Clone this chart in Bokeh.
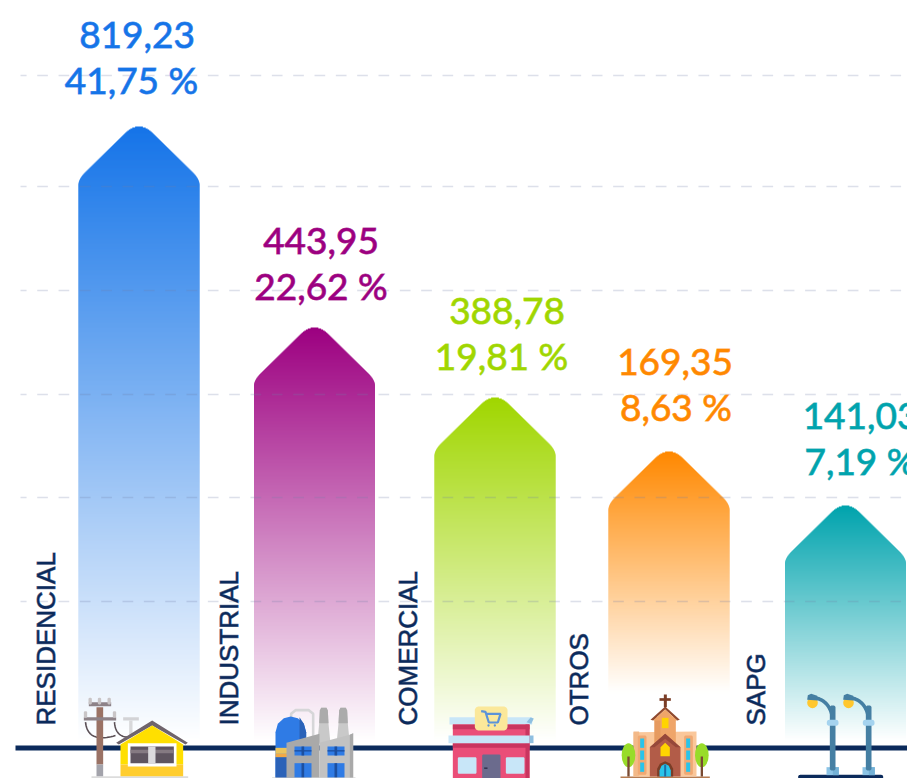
import numpy as np
from bokeh.plotting import figure
from bokeh.models import Range1d, ColumnDataSource
from bokeh.core.properties import value
from bokeh.embed import file_html
from bokeh.resources import INLINE

# ---------- data ----------
categories = ["RESIDENCIAL", "INDUSTRIAL", "COMERCIAL", "OTROS", "SAPG"]
gwh_labels = ["819,23", "443,95", "388,78", "169,35", "141,03"]
pct_labels = ["41,75 %", "22,62 %", "19,81 %", "8,63 %", "7,19 %"]
bar_heights = [621, 420, 350, 296, 242]          # drawn height over the base line (infographic scale)
fade_ends = [7, 7, 7, 55, 7]                     # height where the fade reaches white
bar_centers = [138.5, 314, 494.5, 668.5, 845]
bar_half_width = 60.5
colors = ["#1574e8", "#9c0080", "#a0d600", "#ff8800", "#00a3ad"]
grid_levels = [672, 561, 457, 353, 250, 146]
NAVY = "#0b2a5b"

# layout of labels
gwh_x = [136.5, 320.5, 506.5, 674.5, 860]
gwh_base = [34, 240, 310, 361, 415]
pct_x = [131, 320.5, 501, 675.5, 860]
pct_base = [79, 285, 355, 406, 460]
cat_x = [45, 228, 407, 578, 755]

W, H = 907, 778
p = figure(width=W, height=H, output_backend="svg", toolbar_location=None,
           x_range=Range1d(0, 907), y_range=Range1d(747 - 778, 747),
           min_border=0, outline_line_color=None)
p.axis.visible = False
p.grid.visible = False
p.background_fill_color = "#ffffff"
p.border_fill_color = "#ffffff"

# ---------- bars: arrow shape, vertical fade (opaque tints, overlapping rows) ----------
def half_width_profile(hw, shoulder=58.0):
    s = 0.98
    lift = 7.0
    corner = s * hw - lift
    t = np.linspace(0, 1, 60)
    def bez(a, b, c):
        return ((1 - t) ** 2)[:, None] * a + (2 * t * (1 - t))[:, None] * b + (t ** 2)[:, None] * c
    a0 = np.array([0.0, 0.0]); c0 = np.array([lift / s, 0.0]); e0 = np.array([14.0, 14.0 * s - lift])
    x1 = hw - 7.0
    a1 = np.array([x1, x1 * s - lift]); c1 = np.array([hw, corner]); e1 = np.array([hw, shoulder])
    pts = np.vstack([bez(a0, c0, e0), bez(a1, c1, e1)])
    return pts[:, 1], pts[:, 0]

def tint(col, a):
    rgb = [int(col[i:i + 2], 16) for i in (1, 3, 5)]
    return "#%02x%02x%02x" % tuple(int(round(255 - a * (255 - c))) for c in rgb)

left, right, top, bottom, fc = [], [], [], [], []
for h, end, cx, col in zip(bar_heights, fade_ends, bar_centers, colors):
    dd, xx = half_width_profile(bar_half_width)
    for row in range(h, end, -1):
        depth = h - row + 0.5
        hwid = float(np.interp(depth, dd, xx))
        left.append(cx - hwid); right.append(cx + hwid)
        top.append(row); bottom.append(row - 2)
        fc.append(tint(col, (row - end) / (h - end)))
p.quad(left=left, right=right, top=top, bottom=bottom, fill_color=fc, line_color=None)

# ---------- dashed grid (over the bars, translucent) ----------
dash_starts = np.arange(15.4, 907, 21.33)
gx0, gx1, gy = [], [], []
for lev in grid_levels:
    for s in dash_starts:
        gx0.append(max(s, 20)); gx1.append(s + 10.67); gy.append(lev)
p.segment(gx0, gy, gx1, gy, line_color="#6f7fa8", line_alpha=0.24, line_width=1.6)

# base line
p.quad(left=[15], right=[907], top=[2], bottom=[-3], fill_color=NAVY, line_color=None)

class Z:
    def __init__(self, ox):
        self.ox = ox
    def X(self, z):
        return self.ox + z / 3
    def Y(self, z):
        return 747 - (540 + z / 3)
    def r(self, x0, y0, x1, y1, c):
        p.quad(left=[self.X(x0)], right=[self.X(x1)], top=[self.Y(y0)], bottom=[self.Y(y1)],
               fill_color=c, line_color=None)
    def poly(self, pts, c):
        p.patch([self.X(a) for a, b in pts], [self.Y(b) for a, b in pts], fill_color=c, line_color=None)
    def line(self, pts, c, w):
        p.line([self.X(a) for a, b in pts], [self.Y(b) for a, b in pts], line_color=c, line_width=w)
    def circ(self, x, y, rad, c):
        p.circle([self.X(x)], [self.Y(y)], radius=rad / 3, fill_color=c, line_color=None)
    def curve(self, a, b, c, col, w):
        t = np.linspace(0, 1, 24)
        xs = (1 - t) ** 2 * a[0] + 2 * t * (1 - t) * b[0] + t ** 2 * c[0]
        ys = (1 - t) ** 2 * a[1] + 2 * t * (1 - t) * b[1] + t ** 2 * c[1]
        self.line(list(zip(xs, ys)), col, w)
    def rrect(self, x0, y0, x1, y1, rad, c):
        a = np.linspace(0, np.pi / 2, 8)
        pts = []
        for cx, cy, st in [(x1 - rad, y0 + rad, -np.pi / 2), (x1 - rad, y1 - rad, 0),
                           (x0 + rad, y1 - rad, np.pi / 2), (x0 + rad, y0 + rad, np.pi)]:
            pts += [(cx + rad * np.cos(st + q), cy + rad * np.sin(st + q)) for q in a]
        self.poly(pts, c)

# --- house and pole
z = Z(0)
z.r(273, 707, 563, 714, "#dcdcdc")
z.r(368, 530, 415, 540, "#d3d3d6")
z.r(386, 540, 396, 590, "#d8d8da")
z.curve((255, 545), (262, 610), (345, 585), "#5a4f55", 1.6)
z.curve((342, 545), (345, 590), (385, 590), "#5a4f55", 1.6)
z.r(288, 500, 308, 672, "#9a7265")
z.r(288, 672, 308, 707, "#a3a3ab")
z.r(265, 485, 332, 497, "#8d8288")
z.r(250, 530, 347, 540, "#8d8288")
for zx, zy in [(269, 478), (297, 478), (326, 478), (255, 518), (342, 518)]:
    z.rrect(zx - 5, zy - 6, zx + 5, zy + 14, 4, "#c9c5c7")
z.poly([(455, 540), (562, 607), (555, 612), (455, 555), (355, 612), (347, 607)], "#6f646c")
z.poly([(455, 555), (548, 612), (548, 672), (360, 672), (360, 612)], "#ffdf00")
z.r(360, 672, 548, 707, "#ffcd2e")
z.r(382, 608, 528, 678, "#ffffff")
z.r(390, 618, 520, 668, "#5f5560")
z.r(390, 628, 520, 638, "#857a82")
z.r(443, 618, 465, 668, "#dcdadd")

# --- factory
z.line([(872, 560), (872, 520), (885, 509), (925, 509), (938, 520), (938, 600)], "#d6d6d8", 2.6)
for a, b in [(950, 990), (1008, 1048)]:
    m = (a + b) / 2
    z.poly([(m - 12, 510), (m - 8, 502), (m + 8, 502), (m + 12, 510), (m + 14, 550), (b, 610), (a, 610), (m - 14, 550)], "#c9c9c9")
    z.poly([(m - 12, 510), (m - 8, 502), (m + 8, 502), (m + 12, 510), (m + 14, 548), (m - 14, 548)], "#ababab")
z.poly([(825, 575), (832, 550), (850, 533), (871, 528), (892, 533), (910, 550), (917, 575), (917, 712), (825, 712)], "#2f7be5")
z.poly([(897, 530), (910, 550), (917, 575), (917, 712), (897, 712)], "#2b62b8")
z.r(825, 650, 897, 712, "#2b62b8")
z.r(825, 622, 917, 640, "#ecc55c")
z.r(825, 640, 917, 650, "#f2a945")
z.poly([(858, 607), (957, 580), (957, 712), (858, 712)], "#a9a9a9")
z.poly([(957, 607), (1048, 583), (1058, 578), (1058, 712), (957, 712)], "#c2c2c2")
z.poly([(1048, 583), (1058, 578), (1058, 712), (1048, 712)], "#a9a9a9")
for a in (882, 981):
    z.r(a, 618, a + 51, 645, "#2f7be5")
    z.r(a + 21, 618, a + 29, 645, "#1d4f9e")
    z.r(a, 629, a + 51, 633, "#1d4f9e")
    z.r(a, 668, a + 51, 712, "#2f7be5")
    z.r(a + 21, 668, a + 29, 712, "#1d4f9e")
z.r(815, 711, 1065, 714, "#c9c9c9")

# --- shop
z = Z(450)
z.r(-3, 530, 245, 552, "#c8e6f8")
z.poly([(228, 545), (240, 531), (250, 534), (242, 550)], "#8ebfe0")
z.r(7, 552, 237, 714, "#ea4e78")
z.r(7, 552, 237, 566, "#c9355f")
z.r(7, 608, 237, 622, "#c9355f")
z.r(225, 552, 237, 714, "#c9355f")
z.r(-6, 585, 237, 608, "#c8e6f8")
z.r(237, 585, 249, 608, "#8ebfe0")
z.rrect(73, 498, 171, 570, 12, "#fbe89a")
z.line([(92, 512), (105, 514), (115, 546), (142, 546), (150, 520), (108, 520)], "#5b93d9", 2.2)
z.circ(114, 555, 3.5, "#5b93d9")
z.circ(133, 555, 3.5, "#5b93d9")
z.rrect(22, 650, 78, 700, 4, "#c8e6f8")
z.rrect(166, 650, 222, 700, 4, "#c8e6f8")
z.rrect(95, 642, 150, 730, 4, "#6b6b8d")
z.r(101, 681, 111, 685, "#2b2b44")

# --- church
z.r(510, 708, 778, 714, "#b57c52")
z.poly([(549, 575), (738, 573), (738, 708), (549, 708)], "#fac79a")
z.r(549, 573, 566, 708, "#f3b988")
z.rrect(562, 585, 588, 703, 5, "#f0a872")
z.rrect(701, 585, 727, 703, 5, "#f0a872")
for a in (569, 707):
    for b0, b1 in [(594, 622), (630, 658), (666, 694)]:
        z.r(a, b0, a + 12, b1, "#29c4ea")
z.r(612, 530, 676, 640, "#efa569")
z.r(612, 530, 630, 640, "#e69a5f")
z.poly([(644, 498), (688, 538), (680, 540), (644, 507), (608, 540), (600, 538)], "#8f4a2f")
z.poly([(644, 507), (680, 540), (608, 540)], "#efa569")
z.r(634, 532, 654, 563, "#ffd400")
z.r(640, 462, 649, 500, "#7a3d26")
z.r(627, 473, 661, 481, "#7a3d26")
z.poly([(644, 580), (690, 620), (690, 708), (598, 708), (598, 620)], "#b25c48")
z.poly([(644, 580), (690, 620), (676, 620), (644, 595), (612, 620), (598, 620)], "#96483a")
z.poly([(644, 607), (658, 620), (658, 647), (630, 647), (630, 620)], "#ffd400")
z.poly([(620, 708), (620, 685), (628, 670), (644, 662), (660, 670), (668, 685), (668, 708)], "#7a3d26")
z.poly([(627, 708), (627, 690), (633, 676), (644, 670), (655, 676), (661, 690), (661, 708)], "#29c4ea")
z.r(641, 672, 647, 708, "#1b6fa8")
for cx in (534, 754):
    p.ellipse([z.X(cx)], [z.Y(644)], width=41 / 3, height=72 / 3, fill_color="#98dc2a", line_color=None)
    z.r(cx - 3.5, 648, cx + 3.5, 708, "#7a4a32")

# --- street lamps
z.rrect(1043, 703, 1298, 730, 6, NAVY)
for a in (0, 108):
    z.r(1128 + a, 680, 1165 + a, 704, "#8cc4e6")
    z.r(1147 + a, 680, 1165 + a, 704, "#74b1d6")
    z.rrect(1138 + a, 495, 1155 + a, 690, 6, "#457fa3")
    z.rrect(1129 + a, 538, 1164 + a, 556, 7, "#a5d3ef")
    z.curve((1078 + a, 470), (1135 + a, 472), (1146 + a, 530), "#457fa3", 3.6)
    z.circ(1086 + a, 487, 16, "#ffc72e")
    z.poly([(1070 + a, 478), (1072 + a, 464), (1082 + a, 460), (1100 + a, 466), (1102 + a, 480)], "#457fa3")

# ---------- texts ----------
outline = [c + "c0" for c in colors]
src = ColumnDataSource(dict(x=gwh_x, y=[747 - v for v in gwh_base], t=gwh_labels, c=colors, o=outline))
src2 = ColumnDataSource(dict(x=pct_x, y=[747 - v for v in pct_base], t=pct_labels, c=colors, o=outline))
for s in (src, src2):
    p.text(x="x", y="y", text="t", source=s, text_color="c", text_font=value("Lato"),
           text_outline_color="o",
           text_font_size="37px", text_align="center", text_baseline="alphabetic",
           text_font_style="normal")

src3 = ColumnDataSource(dict(x=cat_x, y=[22] * 5, t=categories))
p.text(x="x", y="y", text="t", source=src3, angle=np.pi / 2, text_color=NAVY,
       text_outline_color=NAVY + "a0",
       text_font=value("Liberation Sans"), text_font_size="26px", text_align="left",
       text_baseline="alphabetic")

open("out.html", "w").write(file_html(p, INLINE))
